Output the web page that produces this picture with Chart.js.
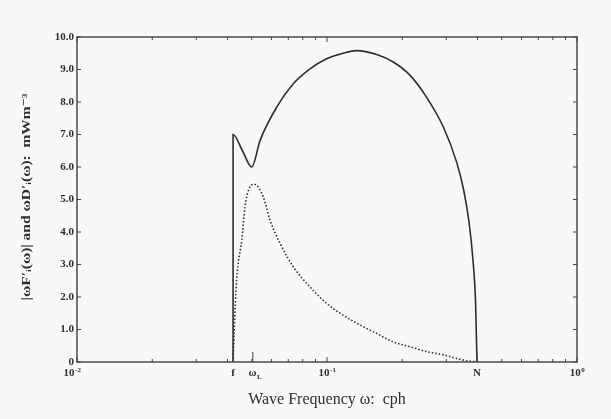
<!DOCTYPE html>
<html>
<head>
<meta charset="utf-8">
<script src="https://cdn.jsdelivr.net/npm/chart.js@4.4.1/dist/chart.umd.min.js"></script>
<style>
  html, body { margin: 0; padding: 0; background: #f8f8f7; }
  #wrap { width: 611px; height: 419px; }
</style>
</head>
<body>
<div id="wrap"><canvas id="chartContainer" width="611" height="419"></canvas></div>
<script>
// special frequencies (cph)
const fInertial = 0.0421;
const omegaL = 0.0505;
const nBuoyancy = 0.398;

// solid curve: |wF(w)|
const fluxFreq = [0.0421, 0.0421, 0.0459, 0.0500, 0.0540, 0.0629, 0.0733, 0.0855, 0.0997, 0.116, 0.1314,
  0.158, 0.184, 0.215, 0.250, 0.292, 0.330, 0.352, 0.370, 0.384, 0.393, 0.398];
const fluxValues = [0, 7.0, 6.5, 6.0, 6.82, 7.84, 8.56, 9.02, 9.33, 9.50, 9.58,
  9.46, 9.23, 8.82, 8.15, 7.23, 6.15, 5.3, 4.3, 3.1, 1.8, 0];

// dotted curve: wD(w)
const dissFreq = [0.0421, 0.0425, 0.0435, 0.0456, 0.0470, 0.0485, 0.0512, 0.0556, 0.0592, 0.0649, 0.0733,
  0.0855, 0.0997, 0.116, 0.1355, 0.158, 0.184, 0.215, 0.250, 0.292, 0.351, 0.398];
const dissValues = [0, 0.9, 2.52, 3.75, 4.77, 5.28, 5.47, 5.08, 4.36, 3.65, 2.93,
  2.31, 1.80, 1.44, 1.14, 0.88, 0.62, 0.47, 0.32, 0.22, 0.06, 0];

const yTicks = [0, 1, 2, 3, 4, 5, 6, 7, 8, 9, 10];
const xDecades = [0.01, 0.1, 1];

const ink = '#2e2e2e';
const serif = '"Liberation Serif", "DejaVu Serif", serif';

function toPoints(xs, ys) {
  return xs.map((x, i) => ({ x: x, y: ys[i] }));
}

// draw a label with optional superscript / subscript part
function drawRich(ctx, x, y, main, sup, sub, size) {
  ctx.font = 'bold ' + size + 'px ' + serif;
  const w1 = ctx.measureText(main).width;
  ctx.font = 'bold ' + Math.round(size * 0.65) + 'px ' + serif;
  const w2 = ctx.measureText(sup || sub || '').width;
  let left = x - (w1 + w2) / 2;
  ctx.textAlign = 'left';
  ctx.textBaseline = 'alphabetic';
  ctx.font = 'bold ' + size + 'px ' + serif;
  ctx.fillText(main, left, y);
  ctx.font = 'bold ' + Math.round(size * 0.65) + 'px ' + serif;
  if (sup) ctx.fillText(sup, left + w1 + 0.5, y - size * 0.4);
  if (sub) ctx.fillText(sub, left + w1 + 0.5, y + size * 0.25);
}

const framePlugin = {
  id: 'frame',
  afterDatasetsDraw(chart) {
    const ctx = chart.ctx;
    const xs = chart.scales.x, ys = chart.scales.y;
    const a = chart.chartArea;
    ctx.save();
    ctx.strokeStyle = '#555';
    ctx.lineWidth = 1.6;
    ctx.strokeRect(a.left, a.top, a.right - a.left, a.bottom - a.top);

    // x ticks (inward, top and bottom)
    ctx.lineWidth = 1;
    ctx.strokeStyle = '#444';
    for (let d = 0.01; d < 1.001; d *= 10) {
      for (let m = 1; m <= 9; m++) {
        const v = d * m;
        if (v > 1.0001) break;
        const px = xs.getPixelForValue(v);
        const len = m === 1 ? 5 : 3;
        ctx.beginPath();
        ctx.moveTo(px, a.top); ctx.lineTo(px, a.top + len);
        ctx.moveTo(px, a.bottom); ctx.lineTo(px, a.bottom - len);
        ctx.stroke();
      }
    }
    // marked frequencies ticks
    [fInertial, omegaL, nBuoyancy].forEach(v => {
      const px = xs.getPixelForValue(v);
      ctx.beginPath();
      ctx.moveTo(px, a.bottom); ctx.lineTo(px, a.bottom - 10);
      ctx.stroke();
    });
    // y ticks (inward, left and right)
    yTicks.forEach(v => {
      const py = ys.getPixelForValue(v);
      ctx.beginPath();
      ctx.moveTo(a.left, py); ctx.lineTo(a.left + 4, py);
      ctx.moveTo(a.right, py); ctx.lineTo(a.right - 4, py);
      ctx.stroke();
    });

    // y tick labels
    ctx.fillStyle = ink;
    ctx.font = 'bold 11px ' + serif;
    ctx.textAlign = 'right';
    ctx.textBaseline = 'middle';
    yTicks.forEach(v => {
      const py = ys.getPixelForValue(v);
      ctx.fillText(v === 0 ? '0' : v.toFixed(1), a.left - 3, py);
    });

    // x tick labels
    const ly = a.bottom + 14;
    drawRich(ctx, xs.getPixelForValue(xDecades[0]) - 5, ly, '10', '-2', null, 11);
    drawRich(ctx, xs.getPixelForValue(xDecades[1]), ly, '10', '-1', null, 11);
    drawRich(ctx, xs.getPixelForValue(xDecades[2]), ly, '10', '0', null, 11);
    drawRich(ctx, xs.getPixelForValue(fInertial), ly, 'f', null, null, 11);
    drawRich(ctx, xs.getPixelForValue(omegaL) + 2, ly, 'ω', null, 'L', 11);
    drawRich(ctx, xs.getPixelForValue(nBuoyancy), ly, 'N', null, null, 11);

    // axis titles
    ctx.textAlign = 'center';
    ctx.textBaseline = 'middle';
    ctx.font = '16px ' + serif;
    ctx.fillText('Wave Frequency ω:  cph', (a.left + a.right) / 2, 400);

    ctx.translate(27, 197);
    ctx.rotate(-Math.PI / 2);
    ctx.font = 'bold 13px ' + serif;
    const title = '|ωF′ᵢ(ω)| and ωD′ᵢ(ω):  mWm⁻³';
    const tw = ctx.measureText(title).width;
    ctx.scale(207 / tw, 1);
    ctx.fillText(title, 0, 0);
    ctx.restore();
  }
};

const ctx = document.getElementById('chartContainer').getContext('2d');
new Chart(ctx, {
  type: 'scatter',
  data: {
    datasets: [
      {
        label: 'flux',
        data: toPoints(fluxFreq, fluxValues),
        showLine: true,
        borderColor: ink,
        borderWidth: 1.6,
        pointRadius: 0,
        cubicInterpolationMode: 'monotone',
        fill: false
      },
      {
        label: 'dissipation',
        data: toPoints(dissFreq, dissValues),
        showLine: true,
        borderColor: ink,
        borderWidth: 1.6,
        borderDash: [1.5, 2],
        pointRadius: 0,
        cubicInterpolationMode: 'monotone',
        fill: false
      }
    ]
  },
  options: {
    responsive: false,
    animation: false,
    layout: { padding: { left: 77, right: 34, top: 37, bottom: 57 } },
    plugins: { legend: { display: false }, tooltip: { enabled: false } },
    scales: {
      x: { type: 'logarithmic', min: 0.01, max: 1, display: false },
      y: { type: 'linear', min: 0, max: 10, display: false }
    }
  },
  plugins: [framePlugin]
});
</script>
</body>
</html>
